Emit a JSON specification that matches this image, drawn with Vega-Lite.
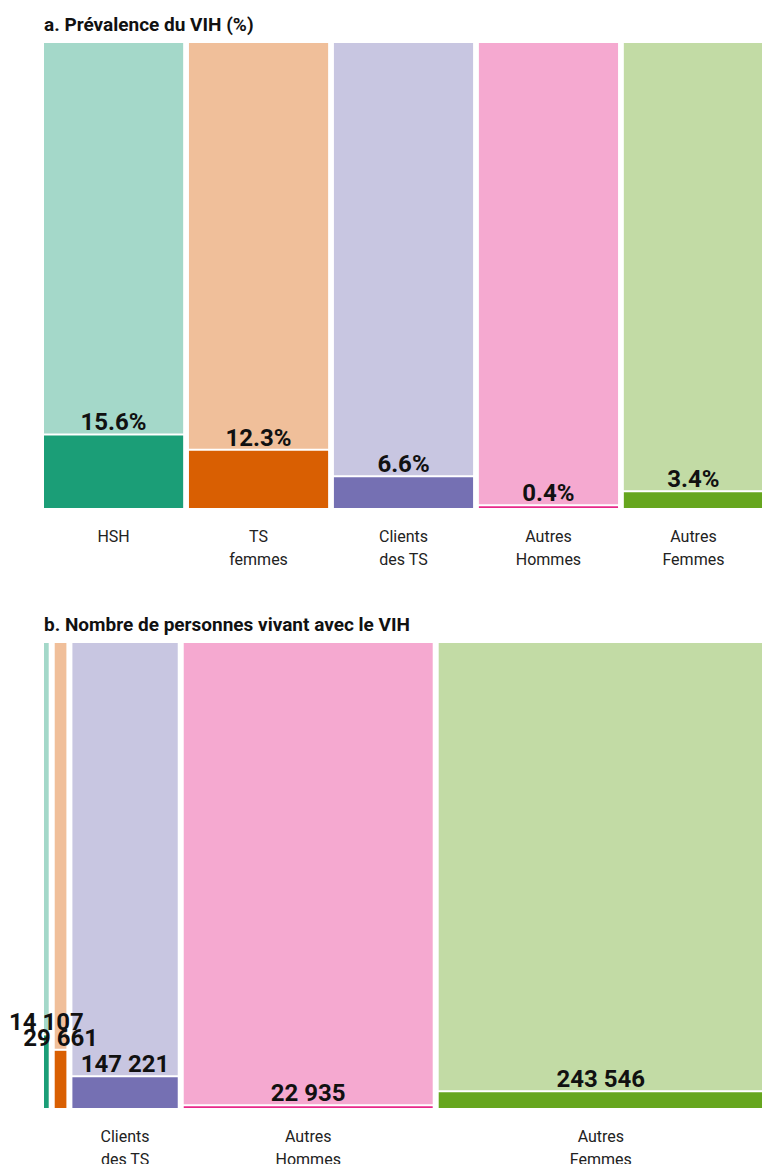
{
  "$schema": "https://vega.github.io/schema/vega-lite/v6.json",
  "padding": {"left": 8, "top": 16, "right": 0, "bottom": 0},
  "config": {
    "view": {"stroke": null},
    "font": "Roboto",
    "locale": {"number": {"decimal": ".", "thousands": " ", "grouping": [3], "currency": ["", ""]}},
    "title": {"font": "Roboto", "fontSize": 19, "fontWeight": "bold", "anchor": "start", "frame": "group", "color": "#111", "offset": 8}
  },
  "datasets": {
    "groups": [
      {"group": "HSH", "prevalence": 0.156, "plhiv": 14107, "population": 229000},
      {"group": "TS femmes", "prevalence": 0.123, "plhiv": 29661, "population": 378000},
      {"group": "Clients des TS", "prevalence": 0.066, "plhiv": 147221, "population": 2380000},
      {"group": "Autres Hommes", "prevalence": 0.004, "plhiv": 22935, "population": 5450000},
      {"group": "Autres Femmes", "prevalence": 0.034, "plhiv": 243546, "population": 7060000}
    ]
  },
  "bounds": "flush",
  "spacing": 135,
  "vconcat": [
    {
      "title": "a. Prévalence du VIH (%)",
      "width": 719,
      "height": 465,
      "data": {"name": "groups"},
      "encoding": {
        "x": {"field": "group", "type": "nominal", "sort": null, "axis": null, "scale": {"paddingInner": 0.04, "paddingOuter": 0}}
      },
      "layer": [
        {
          "mark": {"type": "bar", "opacity": 0.4, "yOffset": -2},
          "encoding": {
            "y": {"field": "prevalence", "type": "quantitative", "axis": null, "scale": {"domain": [0, 1]}},
            "y2": {"datum": 1},
            "color": {"field": "group", "type": "nominal", "sort": null, "legend": null, "scale": {"domain": ["HSH", "TS femmes", "Clients des TS", "Autres Hommes", "Autres Femmes"], "range": ["#1b9e77", "#d95f02", "#7570b3", "#e7298a", "#66a61e"]}}
          }
        },
        {
          "mark": {"type": "bar"},
          "encoding": {
            "y": {"field": "prevalence", "type": "quantitative", "scale": {"domain": [0, 1]}},
            "y2": {"datum": 0},
            "color": {"field": "group", "type": "nominal", "sort": null, "legend": null, "scale": {"domain": ["HSH", "TS femmes", "Clients des TS", "Autres Hommes", "Autres Femmes"], "range": ["#1b9e77", "#d95f02", "#7570b3", "#e7298a", "#66a61e"]}}
          }
        },
        {
          "mark": {"type": "text", "baseline": "alphabetic", "dy": -5, "fontSize": 24, "fontWeight": "bold", "color": "#111"},
          "encoding": {
            "y": {"field": "prevalence", "type": "quantitative", "scale": {"domain": [0, 1]}},
            "text": {"field": "prevalence", "type": "quantitative", "format": ".1%"}
          }
        },
        {
          "mark": {"type": "text", "baseline": "alphabetic", "fontSize": 16, "lineHeight": 23.5, "color": "#222",
            "text": {"expr": "indexof(datum.group, ' ') > 0 ? [substring(datum.group, 0, indexof(datum.group, ' ')), substring(datum.group, indexof(datum.group, ' ') + 1)] : datum.group"}},
          "encoding": {
            "y": {"datum": -0.073, "type": "quantitative", "scale": {"domain": [0, 1]}}
          }
        }
      ]
    },
    {
      "title": "b. Nombre de personnes vivant avec le VIH",
      "width": 719,
      "height": 465,
      "data": {"name": "groups"},
      "transform": [{"stack": "population", "groupby": [], "as": ["x0", "x1"]}],
      "layer": [
        {
          "mark": {"type": "rect", "opacity": 0.4, "yOffset": -2, "x2Offset": -6},
          "encoding": {
            "x": {"field": "x0", "type": "quantitative", "axis": null, "scale": {"range": [0, 725], "nice": false, "zero": true}},
            "x2": {"field": "x1"},
            "y": {"field": "prevalence", "type": "quantitative", "axis": null, "scale": {"domain": [0, 1]}},
            "y2": {"datum": 1},
            "color": {"field": "group", "type": "nominal", "sort": null, "legend": null, "scale": {"domain": ["HSH", "TS femmes", "Clients des TS", "Autres Hommes", "Autres Femmes"], "range": ["#1b9e77", "#d95f02", "#7570b3", "#e7298a", "#66a61e"]}}
          }
        },
        {
          "mark": {"type": "rect", "x2Offset": -6},
          "encoding": {
            "x": {"field": "x0", "type": "quantitative"},
            "x2": {"field": "x1"},
            "y": {"field": "prevalence", "type": "quantitative", "scale": {"domain": [0, 1]}},
            "y2": {"datum": 0},
            "color": {"field": "group", "type": "nominal", "sort": null, "legend": null, "scale": {"domain": ["HSH", "TS femmes", "Clients des TS", "Autres Hommes", "Autres Femmes"], "range": ["#1b9e77", "#d95f02", "#7570b3", "#e7298a", "#66a61e"]}}
          }
        },
        {
          "transform": [
            {"fold": ["x0", "x1"], "as": ["edge", "xpos"]},
            {"aggregate": [{"op": "mean", "field": "xpos", "as": "xmid"}], "groupby": ["group", "prevalence", "plhiv", "population"]}
          ],
          "layer": [
            {
              "mark": {"type": "text", "baseline": "alphabetic", "dx": -3, "dy": -5, "fontSize": 24, "fontWeight": "bold", "color": "#111"},
              "encoding": {
                "x": {"field": "xmid", "type": "quantitative"},
                "y": {"field": "prevalence", "type": "quantitative", "scale": {"domain": [0, 1]}},
                "text": {"field": "plhiv", "type": "quantitative", "format": ",d"}
              }
            },
            {
              "transform": [{"filter": "datum.population > 1000000"}],
              "mark": {"type": "text", "baseline": "alphabetic", "dx": -3, "fontSize": 16, "lineHeight": 23.5, "color": "#222",
                "text": {"expr": "indexof(datum.group, ' ') > 0 ? [substring(datum.group, 0, indexof(datum.group, ' ')), substring(datum.group, indexof(datum.group, ' ') + 1)] : datum.group"}},
              "encoding": {
                "x": {"field": "xmid", "type": "quantitative"},
                "y": {"datum": -0.073, "type": "quantitative", "scale": {"domain": [0, 1]}}
              }
            }
          ]
        }
      ]
    }
  ]
}
